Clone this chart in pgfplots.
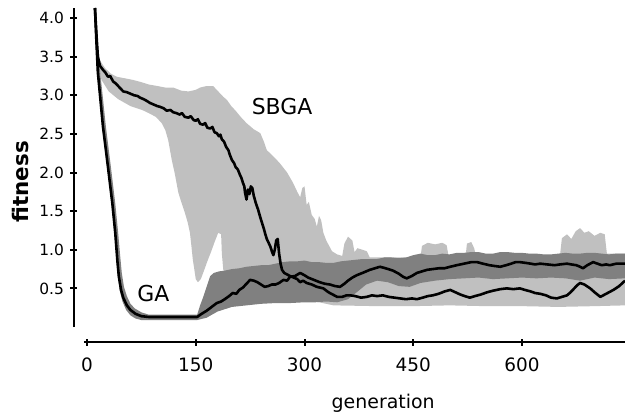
\documentclass[border=0pt]{standalone}
\usepackage{fontspec}
\setmainfont{DejaVu Sans}
\usepackage{pgfplots}
\pgfplotsset{compat=1.18}
\definecolor{lightband}{RGB}{192,192,192}
\definecolor{darkband}{RGB}{128,128,128}
\begin{document}
\begin{tikzpicture}
\useasboundingbox (-84bp,-90bp) rectangle (541bp,327bp);
\begin{axis}[
 at={(0,0)}, anchor=south west,
 scale only axis, width=541bp, height=319bp,
 xmin=-4.1, xmax=742, ymin=0, ymax=4.13,
 axis x line=bottom, axis y line=left,
 separate axis lines,
 axis x line shift=15bp, axis y line shift=10bp,
 axis line style={-, line width=2.6bp},
 xtick={0,150,300,450,600}, ytick={0.5,1,1.5,2,2.5,3,3.5,4},
 tick align=center, major tick length=7bp,
 tick style={line width=2bp, black},
 /pgf/number format/assume math mode=true,
 yticklabel style={/pgf/number format/fixed, /pgf/number format/fixed zerofill, /pgf/number format/precision=1, font=\fontsize{15.5}{15.5}\selectfont, xshift=-3bp},
 xticklabel style={font=\fontsize{18.5}{18.5}\selectfont, yshift=-9bp},
 xlabel={generation}, ylabel={fitness},
 xlabel style={at={(axis description cs:0.553,-0.238)}, anchor=center, font=\fontsize{19}{19}\selectfont},
 ylabel style={at={(axis description cs:-0.118,0.455)}, anchor=center, font=\bfseries\fontsize{21.5}{21.5}\selectfont},
 clip=true,
]
% SBGA band (light)
\addplot[fill=lightband, draw=none] coordinates {
(11,4.13)(14,3.70)(18,3.45)(25,3.35)(33,3.28)(41,3.24)(52,3.22)(63,3.20)(75,3.17)(85,3.14)(97,3.12)(108,3.10)(119,3.10)(130,3.06)(140,3.05)(150,3.07)(156,3.10)(165,3.12)(174,3.12)(179,3.07)(183,3.03)(188,2.98)(193,2.94)(199,2.86)(205,2.80)(212,2.72)(220,2.64)(230,2.56)(239,2.51)(244,2.40)(248,2.29)(258,2.20)(266,2.12)(276,2.00)(284,1.87)(290,1.75)(294,1.68)(297,1.80)(300,1.82)(303,1.58)(306,1.62)(310,1.45)(314,1.40)(317,1.30)(320,1.44)(323,1.38)(326,1.22)(330,1.12)(334,1.05)(338,0.98)(345,0.94)(352,0.92)(355,1.08)(360,1.17)(366,1.12)(369,0.97)(373,1.02)(380,1.00)(386,0.98)(390,0.90)(460,0.90)(462,1.05)(470,1.09)(480,1.07)(490,1.09)(496,1.06)(499,0.90)(522,0.90)(524,1.08)(530,1.10)(534,1.02)(537,0.90)(652,0.90)(655,1.15)(662,1.20)(668,1.14)(674,1.24)(680,1.28)(686,1.22)(692,1.24)(700,1.18)(708,1.22)(714,1.20)(717,0.95)(742,0.95)
(742,0.28)(700,0.27)(650,0.26)(600,0.27)(550,0.27)(500,0.28)(450,0.27)(400,0.27)(340,0.28)(320,0.32)(300,0.35)(270,0.40)(240,0.45)(210,0.50)(195,0.65)(188,0.74)(186,0.95)(185,1.20)(181,1.22)(176,1.10)(171,0.97)(166,0.85)(161,0.72)(157,0.62)(153,0.58)(150,0.62)(148,0.75)(146,0.87)(144,1.05)(142,1.22)(139,1.35)(135,1.48)(130,1.62)(126,1.74)(121,1.99)(117,2.16)(112,2.42)(108,2.55)(103,2.64)(95,2.72)(85,2.77)(76,2.81)(60,2.86)(43,2.95)(30,3.05)(20,3.20)(15,3.40)(12,3.90)
} -- cycle;
% GA band (dark)
\addplot[fill=darkband, draw=none] coordinates {
(11,4.13)(14,3.80)(17,3.40)(21,3.05)(26,2.60)(33,2.07)(39,1.60)(43,1.22)(46,0.90)(48,0.70)(51,0.52)(55,0.40)(60,0.30)(66,0.24)(75,0.19)(85,0.16)(152,0.16)(156,0.28)(160,0.38)(165,0.52)(170,0.66)(175,0.70)(182,0.72)(190,0.73)(200,0.75)(210,0.76)(220,0.78)(230,0.79)(240,0.80)(250,0.80)(260,0.82)(270,0.84)(280,0.85)(290,0.85)(300,0.86)(310,0.84)(320,0.84)(330,0.83)(340,0.83)(350,0.85)(360,0.86)(370,0.87)(380,0.88)(390,0.88)(400,0.88)(410,0.90)(420,0.90)(430,0.89)(440,0.90)(450,0.93)(460,0.95)(470,0.93)(480,0.93)(490,0.95)(500,0.94)(510,0.96)(520,0.96)(530,0.97)(540,0.97)(550,0.95)(560,0.95)(570,0.97)(580,0.97)(590,0.96)(600,0.96)(610,0.95)(620,0.95)(630,0.94)(640,0.94)(650,0.95)(660,0.96)(670,0.95)(680,0.95)(690,0.96)(700,0.96)(710,0.95)(720,0.94)(730,0.95)(742,0.95)
(742,0.63)(720,0.62)(700,0.64)(680,0.60)(660,0.63)(640,0.64)(620,0.63)(600,0.64)(580,0.63)(560,0.62)(540,0.64)(520,0.63)(500,0.62)(480,0.60)(460,0.57)(445,0.52)(430,0.53)(415,0.58)(400,0.60)(385,0.55)(372,0.45)(360,0.36)(345,0.32)(330,0.33)(315,0.32)(300,0.32)(280,0.31)(260,0.31)(240,0.30)(220,0.28)(200,0.26)(180,0.20)(165,0.12)(152,0.09)(75,0.09)(67,0.11)(60,0.15)(54,0.22)(49,0.33)(45,0.48)(42,0.72)(38,1.22)(34,1.60)(28,2.07)(21,2.60)(17,3.00)(14,3.30)(12,3.70)
} -- cycle;
% SBGA mean
\addplot[black, line width=2.6bp, line join=round, mark=none] coordinates {
(11,4.13)(13,3.80)(15,3.50)(18,3.38)(22,3.33)(25,3.30)(29,3.24)(32,3.25)(36,3.18)(40,3.15)(45,3.10)(50,3.05)(55,3.04)(60,3.02)(65,3.00)(70,2.99)(73,2.97)(78,2.95)(82,2.93)(87,2.90)(92,2.88)(97,2.86)(101,2.85)(106,2.83)(110,2.80)(115,2.81)(119,2.78)(123,2.77)(128,2.75)(131,2.77)(135,2.72)(140,2.71)(143,2.73)(147,2.68)(150,2.67)(153,2.69)(156,2.63)(160,2.62)(163,2.64)(166,2.58)(170,2.57)(173,2.59)(176,2.52)(179,2.51)(182,2.47)(184,2.49)(186,2.43)(189,2.40)(192,2.33)(195,2.29)(197,2.23)(200,2.16)(203,2.12)(205,2.07)(208,2.04)(211,1.97)(213,1.93)(215,1.87)(217,1.82)(218,1.74)(220,1.65)(222,1.78)(224,1.72)(226,1.82)(228,1.80)(230,1.70)(233,1.60)(236,1.52)(239,1.42)(241,1.36)(244,1.27)(246,1.20)(248,1.14)(250,1.10)(253,1.04)(255,0.98)(257,0.93)(259,1.00)(261,1.12)(263,1.14)(265,0.95)(267,0.82)(269,0.74)(272,0.70)(276,0.68)(280,0.66)(285,0.64)(290,0.62)(294,0.58)(298,0.60)(303,0.57)(310,0.55)(317,0.52)(326,0.50)(333,0.45)(339,0.42)(345,0.39)(352,0.39)(358,0.41)(363,0.41)(370,0.40)(378,0.38)(386,0.39)(393,0.41)(400,0.40)(408,0.41)(416,0.39)(424,0.38)(432,0.37)(440,0.36)(448,0.37)(455,0.36)(463,0.38)(470,0.40)(477,0.41)(485,0.43)(493,0.46)(501,0.48)(508,0.45)(515,0.42)(521,0.40)(528,0.38)(535,0.40)(543,0.42)(552,0.45)(560,0.47)(570,0.49)(579,0.50)(588,0.49)(597,0.50)(604,0.48)(612,0.46)(618,0.44)(625,0.43)(633,0.41)(640,0.38)(648,0.37)(655,0.39)(662,0.41)(667,0.45)(672,0.50)(676,0.54)(680,0.57)(686,0.55)(694,0.50)(700,0.45)(704,0.42)(708,0.39)(714,0.42)(720,0.45)(726,0.48)(734,0.53)(742,0.60)
};
% GA mean
\addplot[black, line width=2.6bp, line join=round, mark=none] coordinates {
(11,4.13)(13,3.70)(15,3.30)(18,3.00)(22,2.60)(29,2.07)(35,1.60)(39,1.22)(42,0.85)(44,0.65)(47,0.48)(50,0.38)(55,0.28)(60,0.22)(67,0.17)(75,0.14)(85,0.13)(152,0.13)(158,0.17)(165,0.21)(172,0.26)(179,0.31)(185,0.33)(190,0.36)(196,0.40)(201,0.44)(206,0.43)(210,0.48)(215,0.51)(220,0.56)(225,0.61)(230,0.60)(235,0.58)(240,0.55)(245,0.52)(250,0.53)(255,0.55)(260,0.55)(265,0.57)(271,0.61)(276,0.60)(280,0.65)(287,0.66)(294,0.70)(300,0.67)(305,0.64)(313,0.61)(321,0.58)(328,0.56)(335,0.55)(342,0.53)(349,0.52)(355,0.56)(360,0.60)(366,0.64)(372,0.67)(380,0.70)(390,0.74)(397,0.76)(404,0.78)(412,0.76)(422,0.73)(430,0.69)(436,0.65)(441,0.63)(448,0.66)(455,0.70)(462,0.72)(469,0.74)(477,0.75)(485,0.76)(493,0.76)(501,0.78)(510,0.80)(520,0.82)(530,0.84)(538,0.84)(546,0.82)(555,0.80)(562,0.79)(570,0.78)(578,0.80)(585,0.82)(591,0.84)(597,0.84)(605,0.83)(612,0.82)(618,0.81)(625,0.82)(635,0.81)(645,0.80)(652,0.81)(662,0.82)(668,0.81)(675,0.80)(680,0.78)(684,0.76)(690,0.80)(698,0.84)(704,0.82)(710,0.80)(716,0.81)(721,0.80)(730,0.82)(742,0.82)
};
\node[font=\fontsize{22}{22}\selectfont, inner sep=0pt] at (axis cs:269,2.86) {SBGA};
\node[font=\fontsize{22}{22}\selectfont, inner sep=0pt] at (axis cs:91.7,0.434) {GA};
\end{axis}
\end{tikzpicture}
\end{document}
